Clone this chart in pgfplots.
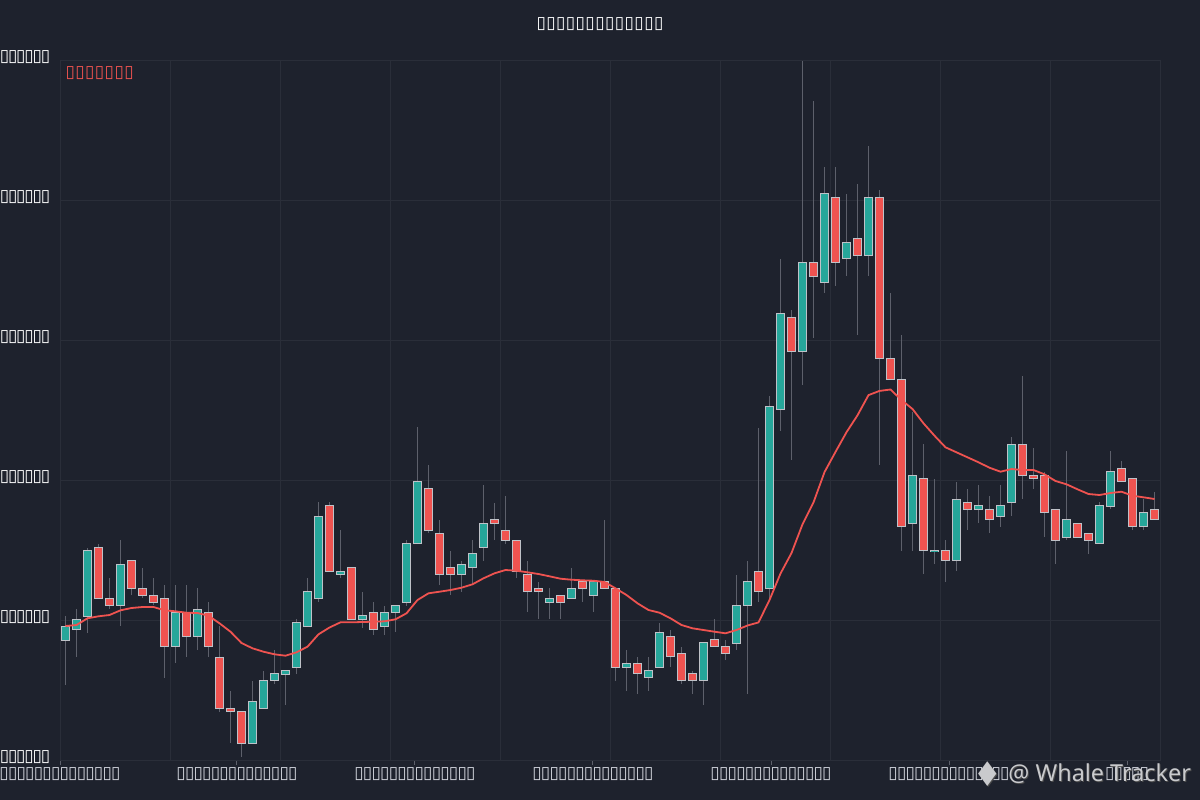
\documentclass[border=0pt]{standalone}
\usepackage{pgfplots}
\pgfplotsset{compat=1.18}
\usepackage{pgfplotstable}
\usepackage{fontspec}
\setmainfont{DejaVu Sans}
\newfontfamily\dejavu{DejaVu Sans}
\newfontfamily\wmfont{Noto Sans}
\definecolor{bg}{HTML}{1E222D}
\definecolor{gridc}{HTML}{2A2E39}
\definecolor{upc}{HTML}{26A69A}
\definecolor{dnc}{HTML}{EF5350}
\definecolor{edgec}{HTML}{BFC2C8}
\definecolor{wickc}{HTML}{5D606B}
\definecolor{tickc}{HTML}{D1D4DC}
\definecolor{wmc}{HTML}{C9CACD}
\ExplSyntaxOn
\cs_new:Npn \rep #1#2 {\prg_replicate:nn{#1}{#2}}
\ExplSyntaxOff
\newcommand\tk{\makebox[4.3bp]{\dejavu\fontsize{8.5bp}{9bp}\selectfont ▯}}
\newcommand\ty{\makebox[4.1bp]{\dejavu\fontsize{8.5bp}{9bp}\selectfont ▯}}
\newcommand\tg{\makebox[4.9bp]{\dejavu\fontsize{8.5bp}{9bp}\selectfont ▯}}

\pgfplotstableread{
i o h l c
0 640 616 685 626
1 629.7 609 657 619.3
2 616 547.7 633 550.3
3 547 544.3 598.7 598.7
4 598.7 578 608.7 605.3
5 605.3 540 625.7 564
6 560.7 560.7 595 588.3
7 588.3 567.7 598.3 595
8 595 578.3 605 602.3
9 598.7 585 677.7 646.7
10 646.7 585 663.3 612.3
11 612.3 585 657 636.3
12 636.3 588.3 650 609
13 612.3 602 657 646.7
14 657 626 711.7 708.3
15 708.3 691 743.3 711.7
16 711.7 711.7 757 743.3
17 743.3 681 743.3 701.3
18 708.3 670.7 708.3 680.7
19 680.7 650 684.3 674
20 674 670 705 670.3
21 667.3 619 674 622.3
22 626 578 626 591.7
23 598.7 502.3 602 516
24 505.7 502 571 571
25 574.3 530 577.7 571
26 567.7 567.7 619 619
27 619 591.7 628.3 615.7
28 612.3 602.3 635 629.3
29 626 605.7 635 612.3
30 612.3 605.3 632 605.3
31 602.3 540 605.7 543.3
32 543.7 427 543.7 481.7
33 488.3 465 533.3 530
34 533.3 520 585 574.3
35 567.7 550.7 595 574.3
36 574.3 560.7 591.7 564
37 567.7 540.3 585 553.7
38 547 485 560.7 523
39 519.7 502.7 540.3 523
40 530 495.7 543.7 540.3
41 540.3 540.3 577.7 571
42 574.3 560.7 611.7 591.7
43 588.3 581.7 619 591.7
44 602 588.3 619 598.3
45 595 595 619 602
46 598.7 567.7 598.7 588.3
47 581.3 581.3 602 588.3
48 595.3 581.3 612.3 581.3
49 581.3 519.7 588.3 588.3
50 588.3 588.3 680.7 667.3
51 667.3 650 690.7 663.7
52 663.7 656.7 694.3 674
53 677.7 656.7 690.7 670.7
54 667.3 622.7 667.3 632.7
55 636.3 629.7 667.3 657
56 653.3 646.7 684 681
57 674 670.7 694.3 681
58 681 643 705 643
59 639.7 619.3 646.7 646.7
60 646.7 639.7 660 653.3
61 643 575 650 605.3
62 605.5 561.4 694 581.5
63 571 427.5 601.5 591.7
64 588 396.4 601.3 406.5
65 409.8 259.2 430.9 313.9
66 317.3 309.7 460.4 351.3
67 351.3 60.5 385.4 262.5
68 262.5 100.5 337.9 276
69 282.7 166.6 292.8 193.9
70 197.3 166.6 285.7 262.5
71 258.8 193.9 276 242.3
72 238.6 183.8 334.5 255.4
73 255.4 146 276 197.3
74 197.3 190.2 464.6 358.5
75 358.5 293.3 379.1 379.1
76 379.1 334.9 550.7 526.5
77 523.4 412.3 550.7 475
78 478.3 444.3 574.3 550.3
79 551.7 479 564 550.3
80 550.3 540 581.7 560.7
81 560.7 481.7 570.7 499
82 502.3 489 529.7 509
83 509 485 523 505.7
84 509 496.3 533.3 519.7
85 516.3 485 526.7 505.7
86 502.3 436.7 516 444
87 444 376 499 475
88 475 448 488.7 478.3
89 475 471.7 536.7 512.7
90 509.3 509.3 564 540.3
91 537 451 540.3 519.7
92 523 523 537 537
93 533.3 533.3 553.7 540.3
94 543.7 502.3 543.7 505.7
95 506 451 509.3 471.3
96 468 461 481.7 481.7
97 478.3 478.3 529.7 526.3
98 526.3 499 529.7 512.7
99 509.3 491.7 519.7 519.7
}\candles

\pgfplotstableread{
i ma
0 626
1 625
2 618.3
3 616.3
4 615
5 610.3
6 608
7 607
8 607
9 610.3
10 611.3
11 612.7
12 613
13 615.7
14 623.3
15 631.7
16 643
17 648.3
18 651.7
19 654.3
20 655.7
21 652.3
22 646.7
23 634.3
24 627.5
25 622.3
26 622.3
27 622
28 621.7
29 621.3
30 619.3
31 613.3
32 600
33 593.3
34 591.7
35 590
36 587.7
37 584.3
38 578.3
39 573.3
40 570
41 570.7
42 572.3
43 574
44 576.3
45 578.7
46 579.7
47 580.3
48 580.7
49 582
50 588.3
51 595
52 603.3
53 610
54 612.7
55 618.3
56 625
57 628.3
58 630
59 631.7
60 633.3
61 630
62 625.5
63 622.4
64 600
65 573.5
66 553
67 524.3
68 502.4
69 472.1
70 451.9
71 432.2
72 415.3
73 395.1
74 390.9
75 389.5
76 400
77 409
78 423.3
79 435.7
80 447.3
81 452.3
82 457.3
83 462.3
84 467.7
85 471.7
86 469
87 470
88 470
89 474.3
90 481
91 484.3
92 489.3
93 494
94 495
95 493
96 491.7
97 495.7
98 497.3
99 499
}\matable

\pgfplotsset{
  upf/.style={x filter/.expression={\thisrow{c}<\thisrow{o} ? x : nan}},
  dnf/.style={x filter/.expression={\thisrow{c}<\thisrow{o} ? nan : x}},
  body/.style 2 args={draw=none, mark=none, forget plot,
    error bars/.cd, y dir=both, y explicit, error mark=none,
    error bar style={draw=#1, line width=#2}},
}

\begin{document}
\begin{tikzpicture}
\fill[bg] (0,0) rectangle (600bp,400bp);
\useasboundingbox (0,0) rectangle (600bp,400bp);
\begin{axis}[
  at={(30bp,20bp)}, anchor=south west,
  scale only axis, width=550bp, height=350bp,
  xmin=-0.5, xmax=99.5, ymin=60, ymax=760, y dir=reverse,
  axis line style={draw=gridc, line width=0.5bp},
  xtick pos=bottom, ytick pos=left,
  xtick={-0.5,15.59,31.77,47.95,64.14,80.32,96.5},
  xticklabels={\rep{14}{\tk},\rep{14}{\tk},\rep{14}{\tk},\rep{14}{\tk},\rep{14}{\tk},\rep{14}{\tk},\rep{5}{\tk}},
  minor xtick={9.5,19.5,29.5,39.5,49.5,59.5,69.5,79.5,89.5},
  ytick={60,200,340,480,620,760},
  yticklabels={\rep{6}{\ty},\rep{6}{\ty},\rep{6}{\ty},\rep{6}{\ty},\rep{6}{\ty},\rep{6}{\ty}},
  xminorgrids, ymajorgrids,
  minor grid style={draw=gridc, line width=0.5bp},
  major grid style={draw=gridc, line width=0.5bp},
  tick align=outside, major tick length=2.5bp, minor tick length=0pt,
  xtick style={draw=wickc, line width=0.5bp},
  ytick style={draw=none},
  xticklabel style={text=tickc, inner sep=0pt, yshift=-1bp, anchor=north},
  yticklabel style={text=white, inner sep=0pt, anchor=east, xshift=-2.5bp, yshift=1.5bp},
  clip=true,
]
% wicks
\addplot[draw=none, mark=none, forget plot,
  error bars/.cd, y dir=both, y explicit, error mark=none,
  error bar style={draw=wickc, line width=0.5bp}]
  table[x=i, y expr={(\thisrow{h}+\thisrow{l})/2}, y error expr={(\thisrow{l}-\thisrow{h})/2}] {\candles};
% bodies: border then fill
\addplot[upf, body={edgec}{4.5bp}]
  table[x=i, y expr={(\thisrow{o}+\thisrow{c})/2}, y error expr={abs(\thisrow{c}-\thisrow{o})/2+0.5}] {\candles};
\addplot[dnf, body={edgec}{4.5bp}]
  table[x=i, y expr={(\thisrow{o}+\thisrow{c})/2}, y error expr={abs(\thisrow{c}-\thisrow{o})/2+0.5}] {\candles};
\addplot[upf, body={upc}{3.5bp}]
  table[x=i, y expr={(\thisrow{o}+\thisrow{c})/2}, y error expr={max(abs(\thisrow{c}-\thisrow{o})/2-0.5,0)}] {\candles};
\addplot[dnf, body={dnc}{3.5bp}]
  table[x=i, y expr={(\thisrow{o}+\thisrow{c})/2}, y error expr={max(abs(\thisrow{c}-\thisrow{o})/2-0.5,0)}] {\candles};
% moving average
\addplot[dnc, line width=0.9bp, mark=none] table[x=i, y=ma] {\matable};
\node[anchor=north west, inner sep=0pt, text=dnc] at (rel axis cs:0.0045,0.991) {\rep{7}{\tg}};
\end{axis}
\node[text=white, inner sep=0pt] at (300bp,388bp) {\rep{13}{\tg}};
% watermark
\node[text=black!70, inner sep=0pt, font=\dejavu\fontsize{12bp}{12bp}\selectfont, yscale=1.35] at (494.3bp,12.3bp) {◆};
\node[text=wmc, inner sep=0pt, font=\dejavu\fontsize{12bp}{12bp}\selectfont, yscale=1.35] at (493.8bp,12.8bp) {◆};
\node[text=black!70, inner sep=0pt, anchor=base west, font=\wmfont\fontsize{11.7bp}{13bp}\selectfont] at (504.5bp,8.7bp) {@ Whale Tracker};
\node[text=wmc, inner sep=0pt, anchor=base west, font=\wmfont\fontsize{11.7bp}{13bp}\selectfont] at (504bp,9.2bp) {@ Whale Tracker};
\end{tikzpicture}
\end{document}
